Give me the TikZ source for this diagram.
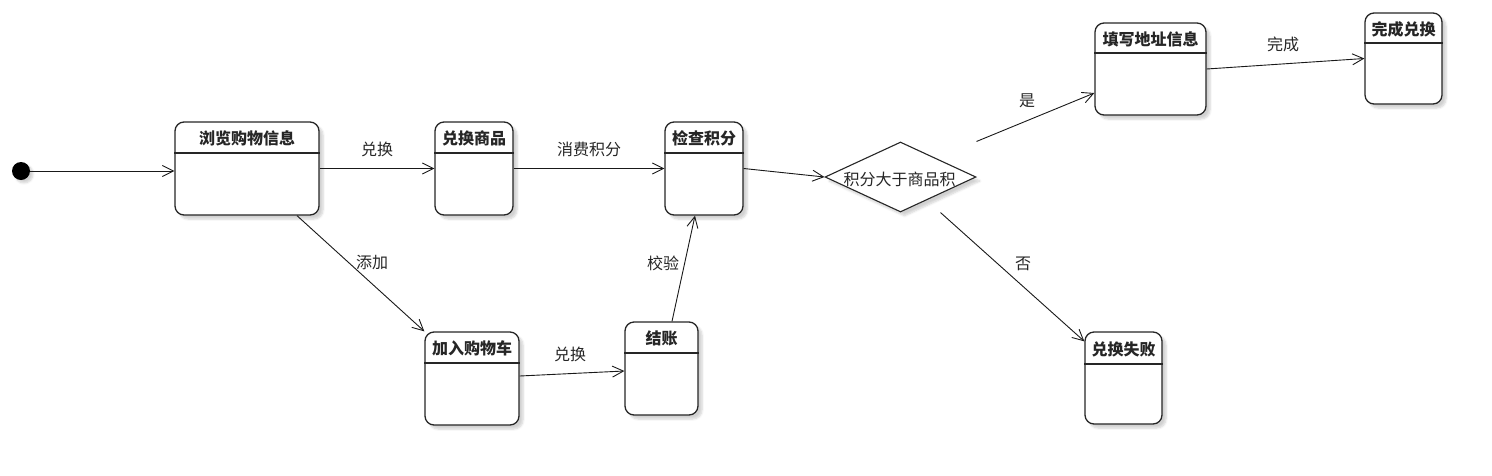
\documentclass[tikz,border=0pt]{standalone}
\usepackage{fontspec}
\setmainfont{Noto Sans CJK SC}
\usetikzlibrary{arrows.meta,shapes.geometric,shadows.blur,calc}
\tikzset{
  stbox/.style={draw=black!85, line width=1.3pt, rounded corners=9pt, fill=white, inner sep=0pt,
    blur shadow={shadow xshift=4pt, shadow yshift=-4pt, shadow blur steps=6, shadow opacity=18}},
  ttl/.style={font=\fontsize{16}{19}\selectfont\bfseries, text=black!85, inner sep=0pt},
  lbl/.style={font=\fontsize{16}{19}\selectfont, text=black!85, inner sep=0pt},
  conn/.style={draw=black!90, line width=0.9pt, -{Straight Barb[length=11pt,width=11pt,line width=0.9pt]}},
  divl/.style={draw=black!85, line width=1.1pt},
  decis/.style={diamond, draw=black!85, line width=1.1pt, fill=white, inner sep=0pt,
    minimum width=151pt, minimum height=70pt,
    blur shadow={shadow xshift=4pt, shadow yshift=-4pt, shadow blur steps=6, shadow opacity=18}},
  initdot/.style={circle, fill=black, inner sep=0pt, minimum size=18pt,
    blur shadow={shadow xshift=3pt, shadow yshift=-3pt, shadow blur steps=5, shadow opacity=18}}
}
\newcommand\stbox[7]{%
  \node[stbox, minimum width={#4-#2}, minimum height={#5-#3}] (#1) at ({(#2+#4)/2},{(#3+#5)/2}) {};
  \draw[divl] (#1.west |- 0,#6) -- (#1.east |- 0,#6);
  \node[ttl] (#1t) at ({(#2+#4)/2},{(#3+#6)/2+1}) {#7};
}
\begin{document}
\begin{tikzpicture}[x=1pt,y=-1pt]
\useasboundingbox (0,0) rectangle (1492,475);
\node[initdot] (init) at (21,171) {};
\stbox{b1}{175}{122}{319}{215}{153}{浏览购物信息}
\stbox{b2}{435}{122}{513}{215}{153}{兑换商品}
\stbox{b3}{665}{122}{743}{215}{153}{检查积分}
\stbox{b4}{425}{332}{519}{425}{363}{加入购物车}
\stbox{b5}{625}{322}{698}{415}{353}{结账}
\stbox{b6}{1095}{23}{1206}{115}{53}{填写地址信息}
\stbox{b7}{1365}{13}{1442}{104}{43}{完成兑换}
\stbox{b8}{1085}{332}{1162}{424}{364}{兑换失败}
\node[decis] (d) at (900.5,177) {};
\node[lbl] (dt) at (899.5,179) {积分大于商品积};

\draw[conn] (init.east) -- (b1.west |- init);
\draw[conn] (b1.east) -- (b2.west) node[lbl, pos=0.5, above=11pt] (l1) {兑换};
\draw[conn] (b2.east) -- (b3.west) node[lbl, pos=0.5, above=11pt] (l2) {消费积分};
\draw[conn] (b3.east) -- (d.west);
\draw[conn] ([xshift=50pt]b1.south) -- (b4.north west);
\draw[conn] ([yshift=2.5pt]b4.east) -- ([yshift=-2.5pt]b5.west);
\draw[conn] ([xshift=10.5pt]b5.north) -- ([xshift=-9pt]b3.south);
\draw[conn] (d.east |- d.north) -- ([yshift=-24pt]b6.west);
\draw[conn] ([xshift=40pt]d.south) -- ([yshift=-10pt]b8.north west);
\draw[conn] (b6.east) -- (b7.west);

\node[lbl] (l3) at (372,262) {添加};
\node[lbl] (l4) at (570,354) {兑换};
\node[lbl] (l5) at (663,263) {校验};
\node[lbl] (l6) at (1027,101) {是};
\node[lbl] (l7) at (1023,264) {否};
\node[lbl] (l8) at (1283,44) {完成};
\end{tikzpicture}
\end{document}
